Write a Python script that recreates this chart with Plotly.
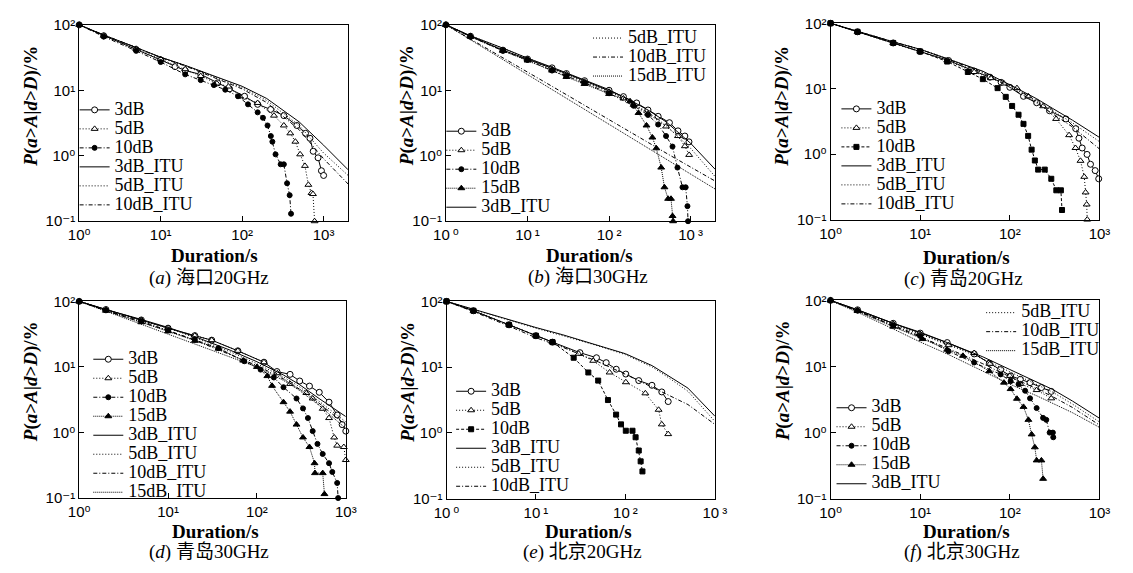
import plotly.graph_objects as go

# ---- data (duration in s, probability in %) ----
ITU_D = [1, 2, 5, 10, 20, 50, 100, 200, 300, 500, 1000, 2000]   # panels a, b
ITU_D3 = [1, 2, 5, 10, 20, 50, 100, 200, 300, 500, 1000]        # panels c-f

# (a) Haikou 20GHz
A_3DB_X = [1, 2, 5, 10, 15, 20, 31, 50, 70, 107, 155, 224, 325, 469, 600, 680, 745, 855, 940, 1000]
A_3DB_Y = [100, 68, 42, 29, 23, 20, 17.5, 13, 10.5, 8.1, 6.1, 5.1, 4.1, 2.9, 2.2, 1.85, 1.17, 0.93, 0.59, 0.5]
A_5DB_X = [1, 2, 5, 10, 20, 31, 49, 68, 93, 155, 246, 325, 390, 450, 515, 590, 650, 710, 740, 775]
A_5DB_Y = [100, 68, 43, 30, 21, 16.5, 12.7, 11.4, 8.1, 6.4, 4.1, 2.9, 2.2, 1.64, 1.05, 0.70, 0.36, 0.27, 0.26, 0.1]
A_10DB_X = [1, 2, 5, 10, 20, 31, 45, 62, 89, 118, 155, 180, 205, 225, 235, 257, 297, 325, 356, 383, 398]
A_10DB_Y = [100, 66, 40, 27, 17.5, 14.3, 12, 10.2, 8.1, 6.1, 4.6, 3.8, 2.9, 2.0, 1.64, 1.05, 0.74, 0.74, 0.38, 0.25, 0.13]
A_3DB_ITU = [100, 70, 45, 32, 24, 16, 11.5, 7.5, 5.2, 3.3, 1.45, 0.61]
A_5DB_ITU = [100, 70, 45, 32, 24, 15.5, 11, 7.0, 4.7, 2.9, 1.1, 0.5]
A_10DB_ITU = [100, 70, 45, 31.5, 23.5, 15, 10.5, 6.5, 4.3, 2.5, 0.9, 0.37]

# (b) Haikou 30GHz
B_3DB_X = [1, 2, 5, 10, 20, 30, 50, 100, 150, 218, 300, 400, 550, 700, 850, 955]
B_3DB_Y = [100, 67, 41, 30, 22, 18, 14, 10, 8, 6.4, 5, 4, 3.2, 2.4, 2.0, 1.63]
B_5DB_X = [1, 2, 5, 10, 20, 30, 50, 100, 150, 200, 300, 500, 700, 850, 960]
B_5DB_Y = [100, 67, 41, 30, 21, 17.5, 13.5, 9.5, 7.5, 6.0, 4.4, 2.8, 2.0, 1.4, 1.03]
B_10DB_X = [1, 2, 5, 10, 20, 30, 50, 100, 200, 300, 400, 500, 600, 690, 795, 870, 915, 930]
B_10DB_Y = [100, 66, 40, 29, 20, 16.5, 13, 9, 5.8, 4.2, 3.0, 2.0, 1.38, 0.66, 0.33, 0.33, 0.17, 0.1]
B_15DB_X = [1, 2, 5, 10, 20, 30, 50, 100, 181, 230, 288, 340, 380, 436, 478, 530, 575, 600, 610]
B_15DB_Y = [100, 66, 40, 28.5, 20, 16, 12.5, 8.8, 6.8, 4.5, 2.9, 1.9, 1.3, 0.66, 0.33, 0.22, 0.22, 0.12, 0.1]
B_3DB_ITU = [100, 68, 44, 31, 22.5, 14.5, 10.2, 6.6, 5.0, 3.3, 1.55, 0.62]
B_5DB_ITU = [100, 68, 44, 31, 22, 14, 9.8, 6.2, 4.6, 2.9, 1.3, 0.48]
B_10DB_ITU = [100, 61, 31, 19, 11.5, 5.9, 3.6, 2.2, 1.6, 1.1, 0.68, 0.41]
B_15DB_ITU = [100, 59, 29.5, 17.4, 10.3, 5.1, 3.0, 1.8, 1.3, 0.9, 0.52, 0.31]

# (c) Qingdao 20GHz
C_3DB_X = [1, 2, 5, 10, 20.7, 40, 60, 80, 100, 142, 199, 277, 422, 543, 590, 641, 727, 794, 895, 980]
C_3DB_Y = [100, 74, 50, 37, 27, 18.6, 15, 12.5, 10.5, 7.65, 6.1, 4.6, 3.45, 2.45, 1.75, 1.24, 0.99, 0.70, 0.56, 0.42]
C_5DB_X = [1, 2, 5, 10, 20, 40, 61.5, 86, 120, 161, 235, 328, 458, 540, 614, 676, 700, 720, 730]
C_5DB_Y = [100, 74, 50, 37, 27, 18, 14.5, 12, 10.2, 7.65, 5.4, 3.45, 1.95, 1.24, 0.79, 0.45, 0.26, 0.17, 0.1]
C_10DB_X = [1, 2, 5, 10, 20, 34, 50, 73, 90, 106, 125, 142, 160, 175, 190, 207, 245, 290, 330, 371, 382]
C_10DB_Y = [100, 74, 50, 37, 26, 18, 14, 10.2, 7.5, 5.45, 4, 2.9, 1.9, 1.17, 0.8, 0.58, 0.58, 0.42, 0.28, 0.28, 0.14]
C_3DB_ITU = [100, 75, 52, 40, 29, 18.5, 11.5, 7.0, 5.0, 3.3, 1.8]
C_5DB_ITU = [100, 75, 52, 40, 29, 18, 11, 6.5, 4.6, 3.0, 1.55]
C_10DB_ITU = [100, 75, 52, 40, 28.5, 17.5, 10.5, 6.0, 4.2, 2.6, 1.2]

# (d) Qingdao 30GHz
D_3DB_X = [1, 2, 5, 10, 20, 31, 61, 120, 168, 236, 303, 390, 503, 648, 800, 910, 1000]
D_3DB_Y = [100, 75, 52, 39, 30, 25.6, 17.6, 11.8, 8.5, 7.7, 6.1, 5.1, 4.1, 2.9, 1.85, 1.32, 1.05]
D_5DB_X = [1, 2, 5, 10, 20, 31, 61, 120, 170, 236, 360, 424, 550, 648, 740, 800, 950, 1000]
D_5DB_Y = [100, 75, 52, 39, 30, 25.6, 17.6, 11.8, 8.0, 5.5, 4.0, 3.3, 2.3, 1.66, 0.84, 0.63, 0.6, 0.38]
D_10DB_X = [1, 2, 5, 10, 20, 37, 72, 110, 155, 199, 279, 330, 375, 424, 480, 550, 648, 705, 800, 820]
D_10DB_Y = [100, 73, 50, 36, 26, 19.3, 12.2, 9.1, 6.9, 4.9, 3.3, 2.33, 1.66, 1.05, 0.67, 0.47, 0.34, 0.25, 0.17, 0.1]
D_15DB_X = [1, 2, 5, 10, 20, 37, 70, 100, 131, 148, 199, 236, 279, 330, 390, 445, 450, 550, 575]
D_15DB_Y = [100, 72, 48, 35, 25, 19, 12.5, 10, 7.25, 5.15, 2.9, 2.08, 1.32, 0.84, 0.6, 0.34, 0.24, 0.24, 0.115]
D_3DB_ITU = [100, 75, 53, 40, 29, 18, 12, 7.5, 5.4, 3.3, 1.75]
D_5DB_ITU = [100, 74, 52, 39, 28, 17, 11.2, 7.0, 5.0, 3.0, 1.45]
D_10DB_ITU = [100, 72, 48, 35.5, 25.5, 15.5, 10.5, 6.5, 4.6, 2.8, 1.3]
D_15DB_ITU = [100, 71, 45, 32, 22.5, 14.2, 10, 6.2, 4.4, 2.6, 1.15]

# (e) Beijing 20GHz
E_3DB_X = [1, 2, 5, 10, 15.3, 31, 47.5, 61, 79, 101, 141, 198, 255, 301]
E_3DB_Y = [100, 72, 44, 30, 24, 16.6, 13.9, 11.7, 9.3, 7.85, 6.25, 5.3, 4.2, 3.0]
E_5DB_X = [1, 2, 5, 10, 15.3, 30, 43.6, 66.5, 101, 167, 235, 255, 301]
E_5DB_Y = [100, 72, 44, 30, 24, 16, 12.5, 8.3, 5.9, 4.0, 2.25, 1.35, 0.96]
E_10DB_X = [1, 2, 5, 10, 15.3, 26.4, 38.5, 49.6, 63.8, 78.7, 89.3, 101, 120, 130, 141, 148, 155]
E_10DB_Y = [100, 72, 44, 30, 24, 13.9, 8.3, 6.25, 3.16, 1.9, 1.35, 1.08, 1.08, 0.86, 0.54, 0.37, 0.26]
E_3DB_ITU = [100, 76, 52, 40, 31, 21.5, 16, 10.5, 7.5, 4.8, 1.8]
E_5DB_ITU = [100, 75, 51, 39, 30, 21, 15.5, 10, 7.0, 4.3, 1.5]
E_10DB_ITU = [100, 70, 42, 28, 20, 12, 7.8, 5.0, 3.8, 2.7, 1.35]

# (f) Beijing 30GHz
F_3DB_X = [1, 2, 5, 10, 20, 40, 59, 79, 102, 131, 168, 225, 290]
F_3DB_Y = [100, 72, 45, 32, 23, 15.5, 11.2, 9.0, 7.2, 6.4, 5.7, 4.8, 4.2]
F_5DB_X = [1, 2, 5, 10, 20.7, 40, 60, 100, 131, 199, 290]
F_5DB_Y = [100, 71, 44, 31, 21, 16, 11, 7.2, 5.45, 4.4, 3.3]
F_10DB_X = [1, 2, 5, 10, 20.7, 40, 79, 102, 125, 148, 168, 199, 235, 255, 278, 302, 305]
F_10DB_Y = [100, 70, 42, 29, 17, 11.5, 7.6, 6.0, 5.4, 4.3, 3.3, 2.35, 1.67, 1.56, 1.0, 1.0, 0.85]
F_15DB_X = [1, 2, 5, 10.6, 20, 30, 59, 86, 102, 120, 142, 161, 175, 190, 199, 225, 235]
F_15DB_Y = [100, 69, 40, 26, 18, 14.5, 8.5, 5.7, 4.56, 3.25, 2.45, 1.56, 0.94, 0.6, 0.38, 0.38, 0.2]
F_3DB_ITU = [100, 72, 45, 33, 23, 14, 9, 5.8, 4.5, 3.0, 1.65]
F_5DB_ITU = [100, 71, 44, 31, 22, 13, 8.4, 5.4, 4.1, 2.7, 1.45]
F_10DB_ITU = [100, 69, 41, 28, 19, 11, 7.0, 4.6, 3.5, 2.4, 1.3]
F_15DB_ITU = [100, 66, 37, 23.5, 15.5, 8.5, 5.4, 3.6, 2.8, 2.0, 1.2]

Y_TICKS = ['10\u207b\u00b9', '10\u2070', '10\u00b9', '10\u00b2']
X_TICKS = ['10\u2070', '10\u00b9', '10\u00b2', '10\u00b3']
X_TICKS_SP = ['10\u2009\u2070', '10\u2009\u00b9', '10\u2009\u00b2', '10\u2009\u00b3']

W, H = 1133, 573
SERIF = 'Liberation Serif, Times New Roman, Noto Sans CJK SC'
SANS = 'Liberation Sans, DejaVu Sans'

MEAS = {
    '3dB': dict(dash='solid', symbol='circle', fill='white', size=6),
    '5dB': dict(dash='1px,2px', symbol='triangle-up', fill='white', size=6),
    '10dB': dict(dash='4px,2px,1px,2px', symbol='circle', fill='black', size=5),
    '15dB': dict(dash='1px,1px', symbol='triangle-up', fill='black', size=6),
}
SQUARE_10DB = dict(dash='3px,2px', symbol='square', fill='black', size=5)
ITU_DASH = {'3dB_ITU': 'solid', '5dB_ITU': '1px,2px',
            '10dB_ITU': '4px,2px,1px,2px', '15dB_ITU': '1px,1px'}


def px_x(a, b):
    return [a / W, b / W]


def px_y(top, bottom):
    return [1 - bottom / H, 1 - top / H]


# panel: letter, caption, x/y domain (px), x max, x tick text,
# measured series, itu series, legend placement
panels = [
    dict(tag='a', cap='海口20GHz', xd=(67.7, 342.7), yd=(16.3, 218.7), xmax=2000, xt=X_TICKS, itux=ITU_D,
         meas=[('3dB', A_3DB_X, A_3DB_Y), ('5dB', A_5DB_X, A_5DB_Y), ('10dB', A_10DB_X, A_10DB_Y)],
         itu=[('3dB_ITU', A_3DB_ITU), ('5dB_ITU', A_5DB_ITU), ('10dB_ITU', A_10DB_ITU)],
         leg=(63, 89), leg_up=None, xt_pos=(206, 254), cap_pos=(200, 277), yt_pos=(18, 100)),
    dict(tag='b', cap='海口30GHz', xd=(442.7, 718), yd=(16.3, 218.7), xmax=2000, xt=X_TICKS_SP, itux=ITU_D,
         meas=[('3dB', B_3DB_X, B_3DB_Y), ('5dB', B_5DB_X, B_5DB_Y), ('10dB', B_10DB_X, B_10DB_Y),
               ('15dB', B_15DB_X, B_15DB_Y)],
         itu=[('3dB_ITU', B_3DB_ITU), ('5dB_ITU', B_5DB_ITU), ('10dB_ITU', B_10DB_ITU), ('15dB_ITU', B_15DB_ITU)],
         leg=(438, 111), leg_up=(588, 15), xt_pos=(590, 254), cap_pos=(588, 276), yt_pos=(403, 100)),
    dict(tag='c', cap='青岛20GHz', xd=(836, 1111), yd=(14.7, 217), xmax=1000, xt=X_TICKS, itux=ITU_D3,
         meas=[('3dB', C_3DB_X, C_3DB_Y), ('5dB', C_5DB_X, C_5DB_Y), ('10dB', C_10DB_X, C_10DB_Y)],
         itu=[('3dB_ITU', C_3DB_ITU), ('5dB_ITU', C_5DB_ITU), ('10dB_ITU', C_10DB_ITU)],
         leg=(842, 88), leg_up=None, xt_pos=(975, 256), cap_pos=(972, 278), yt_pos=(786, 100)),
    dict(tag='d', cap='青岛30GHz', xd=(67.7, 340.3), yd=(301.3, 504), xmax=1000, xt=X_TICKS, itux=ITU_D3,
         meas=[('3dB', D_3DB_X, D_3DB_Y), ('5dB', D_5DB_X, D_5DB_Y), ('10dB', D_10DB_X, D_10DB_Y),
               ('15dB', D_15DB_X, D_15DB_Y)],
         itu=[('3dB_ITU', D_3DB_ITU), ('5dB_ITU', D_5DB_ITU), ('10dB_ITU', D_10DB_ITU), ('15dB_ITU', D_15DB_ITU)],
         leg=(77, 346), leg_up=None, xt_pos=(207, 538), cap_pos=(200, 560), yt_pos=(18, 384)),
    dict(tag='e', cap='北京20GHz', xd=(443.3, 717.7), yd=(301.3, 504.7), xmax=1000, xt=X_TICKS_SP, itux=ITU_D3,
         meas=[('3dB', E_3DB_X, E_3DB_Y), ('5dB', E_5DB_X, E_5DB_Y), ('10dB', E_10DB_X, E_10DB_Y)],
         itu=[('3dB_ITU', E_3DB_ITU), ('5dB_ITU', E_5DB_ITU), ('10dB_ITU', E_10DB_ITU)],
         leg=(448, 379), leg_up=None, xt_pos=(588, 538), cap_pos=(582, 560), yt_pos=(403, 385)),
    dict(tag='f', cap='北京30GHz', xd=(836, 1111), yd=(300.3, 504.7), xmax=1000, xt=X_TICKS, itux=ITU_D3,
         meas=[('3dB', F_3DB_X, F_3DB_Y), ('5dB', F_5DB_X, F_5DB_Y), ('10dB', F_10DB_X, F_10DB_Y),
               ('15dB', F_15DB_X, F_15DB_Y)],
         itu=[('3dB_ITU', F_3DB_ITU), ('5dB_ITU', F_5DB_ITU), ('10dB_ITU', F_10DB_ITU), ('15dB_ITU', F_15DB_ITU)],
         leg=(837, 396), leg_up=(990, 298), xt_pos=(975, 538), cap_pos=(970, 560), yt_pos=(787, 383)),
]


def label(name):
    return f'<span style="font-size:18px">{name}</span>'


fig = go.Figure()
layout = dict(width=W, height=H, margin=dict(l=0, r=0, t=0, b=0),
              paper_bgcolor='white', plot_bgcolor='white', annotations=[])

legend_no = 0
for i, p in enumerate(panels):
    n = '' if i == 0 else str(i + 1)
    xa, ya = 'x' + n, 'y' + n

    legend_no += 1
    low = 'legend' if legend_no == 1 else f'legend{legend_no}'
    layout[low] = dict(x=p['leg'][0] / W, y=1 - p['leg'][1] / H)
    up = low
    if p['leg_up']:
        legend_no += 1
        up = f'legend{legend_no}'
        layout[up] = dict(x=p['leg_up'][0] / W, y=1 - p['leg_up'][1] / H)

    for name, xs, ys in p['meas']:
        st = MEAS[name]
        if name == '10dB' and p['tag'] in ('c', 'e'):
            st = SQUARE_10DB
        fig.add_trace(go.Scatter(
            x=xs, y=ys, mode='lines+markers', name=label(name),
            line=dict(color='black', width=1, dash=st['dash']),
            marker=dict(symbol=st['symbol'], size=st['size'], color=st['fill'],
                        line=dict(color='black', width=1)),
            xaxis=xa, yaxis=ya, legend=low, cliponaxis=False))

    for name, ys in p['itu']:
        lg = low if (name == '3dB_ITU' or not p['leg_up']) else up
        fig.add_trace(go.Scatter(
            x=p['itux'], y=ys, mode='lines', name=label(name),
            line=dict(color='black', width=1, dash=ITU_DASH[name]),
            xaxis=xa, yaxis=ya, legend=lg))

    axis = dict(type='log', showline=True, linecolor='black', linewidth=1, mirror=True,
                ticks='inside', ticklen=5, tickcolor='black', showgrid=False, zeroline=False,
                tickfont=dict(family=SANS, size=15, color='black'))
    layout['xaxis' + n] = dict(axis, domain=px_x(*p['xd']), anchor=ya,
                               range=[0, 3.301 if p['xmax'] == 2000 else 3],
                               tickvals=[1, 10, 100, 1000], ticktext=p['xt'])
    layout['yaxis' + n] = dict(axis, domain=px_y(*p['yd']), anchor=xa, range=[-1, 2],
                               tickvals=[0.1, 1, 10, 100], ticktext=Y_TICKS)

    ann = layout['annotations']
    ann.append(dict(text='<b>Duration/s</b>', x=p['xt_pos'][0] / W, y=1 - p['xt_pos'][1] / H,
                    xref='paper', yref='paper', showarrow=False, xanchor='center', yanchor='middle',
                    font=dict(family=SERIF, size=19, color='black')))
    ann.append(dict(text=f"(<i>{p['tag']}</i>) {p['cap']}", x=p['cap_pos'][0] / W, y=1 - p['cap_pos'][1] / H,
                    xref='paper', yref='paper', showarrow=False, xanchor='center', yanchor='middle',
                    font=dict(family=SERIF, size=19, color='black')))
    ann.append(dict(text='<b><i>P</i>(<i>a</i>><i>A</i>|<i>d</i>><i>D</i>)/%</b>',
                    x=p['yt_pos'][0] / W, y=1 - p['yt_pos'][1] / H, textangle=-90,
                    xref='paper', yref='paper', showarrow=False, xanchor='center', yanchor='middle',
                    font=dict(family=SERIF, size=19, color='black')))

for k in list(layout):
    if k.startswith('legend'):
        layout[k].update(xanchor='left', yanchor='top', bgcolor='rgba(0,0,0,0)', borderwidth=0,
                         tracegroupgap=0, itemwidth=30,
                         font=dict(family=SERIF, size=12, color='black'))

layout['showlegend'] = True
fig.update_layout(**layout)

fig.write_html("out.html", config={'displayModeBar': False},
               post_script="document.body.style.margin='0';")
